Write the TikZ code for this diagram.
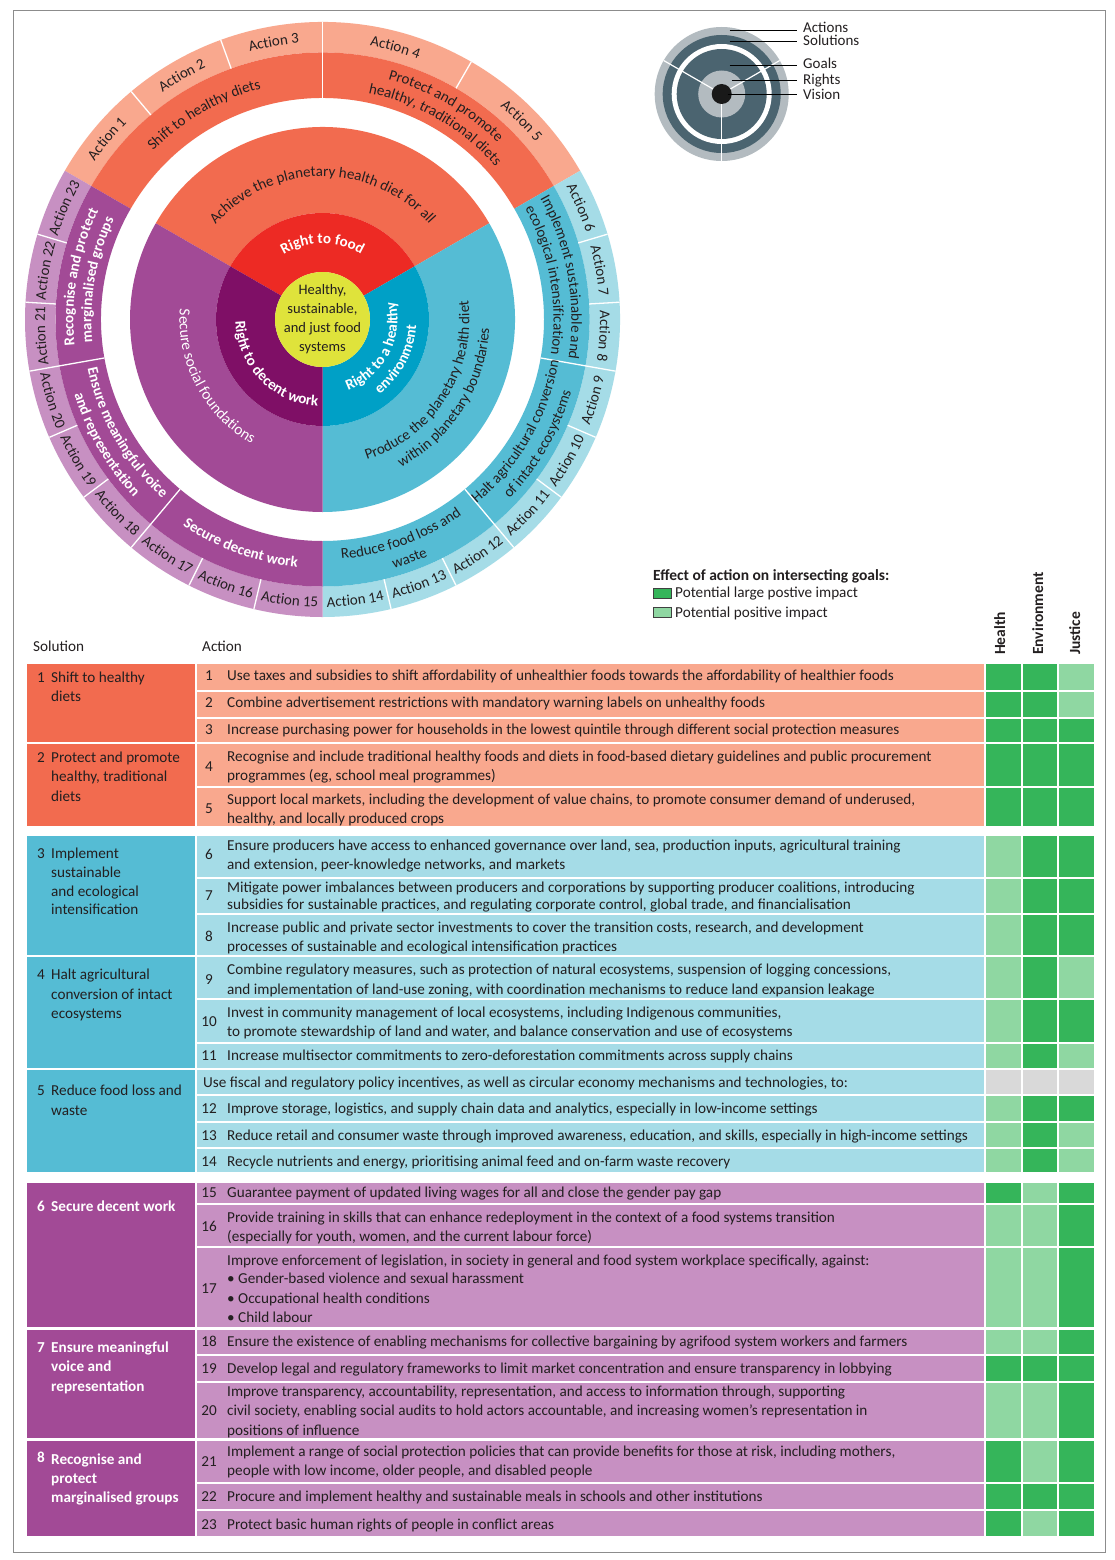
\documentclass[tikz,border=0pt]{standalone}
\usepackage{fontspec}
\setmainfont{Carlito}
\usetikzlibrary{decorations.text}
\definecolor{orS}{HTML}{F26B4F}
\definecolor{orA}{HTML}{F9A88E}
\definecolor{blS}{HTML}{55BCD4}
\definecolor{blA}{HTML}{A5DCE7}
\definecolor{puS}{HTML}{A24A96}
\definecolor{puA}{HTML}{C790C2}
\definecolor{rdR}{HTML}{ED2A24}
\definecolor{blR}{HTML}{00A0C6}
\definecolor{puR}{HTML}{7F0F66}
\definecolor{yel}{HTML}{DFE33B}
\definecolor{gL}{HTML}{35B55A}
\definecolor{gP}{HTML}{8FD7A2}
\definecolor{gG}{HTML}{D9D9D9}
\definecolor{txt}{HTML}{231F20}
\definecolor{slate}{HTML}{4B6470}
\definecolor{lgrey}{HTML}{B3BBC0}

\newcommand\fA{\fontsize{15}{18}\selectfont\color{txt}}
\newcommand\fW{\fontsize{15}{18}\selectfont\bfseries\color{white}}
\newcommand\fWr{\fontsize{15.5}{18}\selectfont\color{white}}

\newcommand\ringsec[5]{\fill[#1] (#2:#4) arc[start angle=#2,end angle=#3,radius=#4] -- (#3:#5) arc[start angle=#3,end angle=#2,radius=#5] -- cycle;}
\newcommand\cwtext[4]{\path[decorate,decoration={text along path,text align=center,text={|#3|#4}}] ({#2+85}:#1) arc[start angle={#2+85},end angle={#2-85},radius=#1];}
\newcommand\ccwtext[4]{\path[decorate,decoration={text along path,text align=center,text={|#3|#4}}] ({#2-85}:#1) arc[start angle={#2-85},end angle={#2+85},radius=#1];}

\newcounter{nd}
\newcommand\tabline[4][]{\stepcounter{nd}\node[tabtxt,#1] (t\arabic{nd}) at (#2,-#3) {#4};}
\newcommand\tabnum[2]{\stepcounter{nd}\node[tabtxt,anchor=base] (t\arabic{nd}) at (209,-#1) {#2};}
\newcommand\trow[6]{%
 \fill[#3] (197,-#1) rectangle (984,-#2);
 \fill[#4] (986,-#1) rectangle (1021,-#2);
 \fill[#5] (1023,-#1) rectangle (1057,-#2);
 \fill[#6] (1059,-#1) rectangle (1094,-#2);}

\tikzset{
 tabtxt/.style={anchor=base west,inner sep=0pt,text=txt,font=\fontsize{15.2}{17}\selectfont},
 solw/.style={text=white,font=\fontsize{15.2}{17}\selectfont\bfseries},
 hdr/.style={anchor=base west,inner sep=0pt,text=txt,font=\fontsize{15.5}{17}\selectfont\bfseries},
 sep/.style={white,line width=1.3pt},
 lbl/.style={anchor=base west,inner sep=0pt,text=txt,font=\fontsize{15}{18}\selectfont},
 leadline/.style={black,line width=0.9pt}
}

\begin{document}
\begin{tikzpicture}[x=1pt,y=1pt]
\useasboundingbox (0,0) rectangle (1114,-1560);
\fill[white] (0,0) rectangle (1114,-1560);
\draw[black!45,line width=0.8pt] (13,-10) rectangle (1105,-1552);

% ================= main circle =================
\begin{scope}[shift={(322.5,-319.5)}]
 % actions ring
 \ringsec{orA}{30}{150}{267}{297.5}
 \ringsec{blA}{-90}{30}{267}{297.5}
 \ringsec{puA}{150}{270}{267}{297.5}
 % solutions ring
 \ringsec{orS}{30}{150}{221.5}{267}
 \ringsec{blS}{-90}{30}{221.5}{267}
 \ringsec{puS}{150}{270}{221.5}{267}
 % goals
 \ringsec{orS}{30}{150}{106.5}{192.5}
 \ringsec{blS}{-90}{30}{106.5}{192.5}
 \ringsec{puS}{150}{270}{106.5}{192.5}
 % rights
 \ringsec{rdR}{30}{150}{47.5}{106.5}
 \ringsec{blR}{-90}{30}{47.5}{106.5}
 \ringsec{puR}{150}{270}{47.5}{106.5}
 % vision
 \fill[yel] (0,0) circle[radius=47.5];
 % separators
 \foreach \a in {90,-10,-50,230,190} \draw[sep] (\a:221.5) -- (\a:297.5);
 \foreach \a in {130,110,60,16.667,3.333,-23.333,-36.667,-63.333,-76.667,256.667,243.333,216.667,203.333,176.667,163.333}
   \draw[sep] (\a:267) -- (\a:297.5);
 % vision text
 \node[align=center,text=txt,font=\fontsize{14.5}{19}\selectfont,inner sep=0pt] (vision) at (0,0.5) {Healthy,\\sustainable,\\and just food\\systems};
 % rights text
 \cwtext{76}{90}{\fW}{Right to food}
 \ccwtext{87}{224}{\fW}{Right to decent work}
 \ccwtext{75}{-28}{\fW}{Right to a healthy}
 \ccwtext{94}{-28}{\fW}{environment}
 % goals text
 \cwtext{143}{90}{\fA}{Achieve the planetary health diet for all}
 \ccwtext{143}{208}{\fWr}{Secure social foundations}
 \ccwtext{147}{-32.5}{\fA}{Produce the planetary health diet}
 \ccwtext{167}{-32.5}{\fA}{within planetary boundaries}
 % solutions text
 \cwtext{239}{120}{\fA}{Shift to healthy diets}
 \cwtext{249}{60}{\fA}{Protect and promote}
 \cwtext{231}{60}{\fA}{healthy, traditional diets}
 \cwtext{249}{10}{\fA}{Implement sustainable and}
 \cwtext{231}{10}{\fA}{ecological intensification}
 \ccwtext{240}{-30}{\fA}{Halt agricultural conversion}
 \ccwtext{259}{-30}{\fA}{of intact ecosystems}
 \ccwtext{240}{-70}{\fA}{Reduce food loss and}
 \ccwtext{259}{-70}{\fA}{waste}
 \ccwtext{249}{250}{\fW}{Secure decent work}
 \ccwtext{240}{210}{\fW}{Ensure meaningful voice}
 \ccwtext{259}{210}{\fW}{and representation}
 \cwtext{249}{170}{\fW}{Recognise and protect}
 \cwtext{231}{170}{\fW}{marginalised groups}
 % actions text
 \cwtext{277.5}{140}{\fA}{Action 1}
 \cwtext{277.5}{120}{\fA}{Action 2}
 \cwtext{277.5}{100}{\fA}{Action 3}
 \cwtext{277.5}{75}{\fA}{Action 4}
 \cwtext{277.5}{45}{\fA}{Action 5}
 \cwtext{277.5}{23.333}{\fA}{Action 6}
 \cwtext{277.5}{10}{\fA}{Action 7}
 \cwtext{277.5}{-3.333}{\fA}{Action 8}
 \ccwtext{287.5}{-16.667}{\fA}{Action 9}
 \ccwtext{287.5}{-30}{\fA}{Action 10}
 \ccwtext{287.5}{-43.333}{\fA}{Action 11}
 \ccwtext{287.5}{-56.667}{\fA}{Action 12}
 \ccwtext{287.5}{-70}{\fA}{Action 13}
 \ccwtext{287.5}{-83.333}{\fA}{Action 14}
 \ccwtext{287.5}{263.333}{\fA}{Action 15}
 \ccwtext{287.5}{250}{\fA}{Action 16}
 \ccwtext{287.5}{236.667}{\fA}{Action 17}
 \ccwtext{287.5}{223.333}{\fA}{Action 18}
 \ccwtext{287.5}{210}{\fA}{Action 19}
 \ccwtext{287.5}{196.667}{\fA}{Action 20}
 \cwtext{277.5}{183.333}{\fA}{Action 21}
 \cwtext{277.5}{170}{\fA}{Action 22}
 \cwtext{277.5}{156.667}{\fA}{Action 23}
\end{scope}

% ================= small legend circle =================
\begin{scope}[shift={(721.7,-94)}]
 \fill[lgrey] (0,0) circle[radius=67];
 \fill[slate] (0,0) circle[radius=59];
 \fill[white] (0,0) circle[radius=50];
 \fill[slate] (0,0) circle[radius=45];
 \fill[lgrey] (0,0) circle[radius=23.5];
 \foreach \a in {30,150,270} \draw[white,line width=1.2pt] (0,0) -- (\a:67);
 \fill[black!90] (0,0) circle[radius=10];
 \coordinate (pA) at (8,64);
 \coordinate (pS) at (8,53);
 \coordinate (pG) at (8,29);
 \coordinate (pR) at (10,13.3);
 \coordinate (pV) at (6,0);
\end{scope}
\node[lbl] (lA) at (803,-33) {Actions};
\node[lbl] (lS) at (803,-45.5) {Solutions};
\node[lbl] (lG) at (803,-68.5) {Goals};
\node[lbl] (lR) at (803,-84.5) {Rights};
\node[lbl] (lV) at (803,-100) {Vision};
\draw[leadline] (pA) -- (797,-30);
\draw[leadline] (pS) -- (797,-41);
\draw[leadline] (pG) -- (797,-65);
\draw[leadline] (pR) -- (797,-80.7);
\draw[leadline] (pV) -- (797,-94);

% ================= legend for table =================
\node[hdr] (effect) at (653,-580.5) {Effect of action on intersecting goals:};
\fill[gL,draw=black!75,line width=0.8pt] (653.5,-588.5) rectangle (671,-598.5);
\fill[gP,draw=black!75,line width=0.8pt] (653.5,-607.5) rectangle (671,-617.5);
\node[tabtxt] (leg1) at (675,-597.5) {Potential large postive impact};
\node[tabtxt] (leg2) at (675,-617) {Potential positive impact};
\node[hdr,rotate=90] (hHealth) at (1005,-655) {Health};
\node[hdr,rotate=90] (hEnv) at (1043,-655) {Environment};
\node[hdr,rotate=90] (hJust) at (1080,-655) {Justice};
\node[tabtxt] (hSol) at (33,-651.5) {Solution};
\node[tabtxt] (hAct) at (202,-651.5) {Action};

% ================= table rows =================
\trow{664}{690}{orA}{gL}{gL}{gP}
\trow{692}{717}{orA}{gL}{gL}{gP}
\trow{719}{742}{orA}{gL}{gL}{gL}
\trow{744}{786}{orA}{gL}{gL}{gL}
\trow{788}{826}{orA}{gL}{gL}{gL}
\trow{836}{877}{blA}{gP}{gL}{gL}
\trow{879}{913}{blA}{gP}{gL}{gL}
\trow{915}{955}{blA}{gP}{gL}{gL}
\trow{957}{998}{blA}{gP}{gL}{gP}
\trow{1000}{1042}{blA}{gP}{gL}{gL}
\trow{1044}{1068}{blA}{gP}{gL}{gP}
\trow{1070}{1094}{blA}{gG}{gG}{gG}
\trow{1096}{1121}{blA}{gP}{gL}{gL}
\trow{1123}{1147}{blA}{gP}{gL}{gP}
\trow{1149}{1172}{blA}{gP}{gL}{gP}
\trow{1183}{1203}{puA}{gL}{gP}{gL}
\trow{1205}{1246}{puA}{gP}{gP}{gL}
\trow{1248}{1327}{puA}{gP}{gP}{gL}
\trow{1330}{1354}{puA}{gP}{gP}{gL}
\trow{1356}{1381}{puA}{gL}{gL}{gL}
\trow{1383}{1438}{puA}{gP}{gP}{gL}
\trow{1441}{1482}{puA}{gL}{gP}{gL}
\trow{1484}{1509}{puA}{gL}{gL}{gL}
\trow{1511}{1536}{puA}{gL}{gP}{gL}
% solution boxes
\fill[orS] (27,-664) rectangle (195,-742);
\fill[orS] (27,-744) rectangle (195,-826);
\fill[blS] (27,-836) rectangle (195,-955);
\fill[blS] (27,-957) rectangle (195,-1068);
\fill[blS] (27,-1070) rectangle (195,-1172);
\fill[puS] (27,-1183) rectangle (195,-1327);
\fill[puS] (27,-1330) rectangle (195,-1438);
\fill[puS] (27,-1441) rectangle (195,-1536);

% solution labels
\tabline{37}{682}{1}\tabline{51}{682}{Shift to healthy}\tabline{51}{701}{diets}
\tabline{37}{762}{2}\tabline{51}{762}{Protect and promote}\tabline{51}{781}{healthy, traditional}\tabline{51}{801}{diets}
\tabline{37}{858}{3}\tabline{51}{858}{Implement}\tabline{51}{877}{sustainable}\tabline{51}{896}{and ecological}\tabline{51}{914}{intensification}
\tabline{37}{979}{4}\tabline{51}{979}{Halt agricultural}\tabline{51}{999}{conversion of intact}\tabline{51}{1018}{ecosystems}
\tabline{37}{1095}{5}\tabline{51}{1095}{Reduce food loss and}\tabline{51}{1115}{waste}
\tabline[solw]{37}{1211}{6}\tabline[solw]{51}{1211}{Secure decent work}
\tabline[solw]{37}{1352}{7}\tabline[solw]{51}{1352}{Ensure meaningful}\tabline[solw]{51}{1371}{voice and}\tabline[solw]{51}{1391}{representation}
\tabline[solw]{37}{1462}{8}\tabline[solw]{51}{1464}{Recognise and}\tabline[solw]{51}{1483}{protect}\tabline[solw]{51}{1502}{marginalised groups}

% action texts
\tabnum{680}{1}\tabline{227}{680}{Use taxes and subsidies to shift affordability of unhealthier foods towards the affordability of healthier foods}
\tabnum{707}{2}\tabline{227}{707}{Combine advertisement restrictions with mandatory warning labels on unhealthy foods}
\tabnum{734}{3}\tabline{227}{734}{Increase purchasing power for households in the lowest quintile through different social protection measures}
\tabnum{771}{4}\tabline{227}{761}{Recognise and include traditional healthy foods and diets in food-based dietary guidelines and public procurement}\tabline{227}{780}{programmes (eg, school meal programmes)}
\tabnum{813}{5}\tabline{227}{804}{Support local markets, including the development of value chains, to promote consumer demand of underused,}\tabline{227}{823}{healthy, and locally produced crops}
\tabnum{859}{6}\tabline{227}{850}{Ensure producers have access to enhanced governance over land, sea, production inputs, agricultural training}\tabline{227}{869}{and extension, peer-knowledge networks, and markets}
\tabnum{900}{7}\tabline{227}{892}{Mitigate power imbalances between producers and corporations by supporting producer coalitions, introducing}\tabline{227}{909}{subsidies for sustainable practices, and regulating corporate control, global trade, and financialisation}
\tabnum{941}{8}\tabline{227}{932}{Increase public and private sector investments to cover the transition costs, research, and development}\tabline{227}{951}{processes of sustainable and ecological intensification practices}
\tabnum{984}{9}\tabline{227}{974}{Combine regulatory measures, such as protection of natural ecosystems, suspension of logging concessions,}\tabline{227}{994}{and implementation of land-use zoning, with coordination mechanisms to reduce land expansion leakage}
\tabnum{1026}{10}\tabline{227}{1017}{Invest in community management of local ecosystems, including Indigenous communities,}\tabline{227}{1036}{to promote stewardship of land and water, and balance conservation and use of ecosystems}
\tabnum{1060}{11}\tabline{227}{1060}{Increase multisector commitments to zero-deforestation commitments across supply chains}
\tabline{203}{1087}{Use fiscal and regulatory policy incentives, as well as circular economy mechanisms and technologies, to:}
\tabnum{1113}{12}\tabline{227}{1113}{Improve storage, logistics, and supply chain data and analytics, especially in low-income settings}
\tabnum{1140}{13}\tabline{227}{1140}{Reduce retail and consumer waste through improved awareness, education, and skills, especially in high-income settings}
\tabnum{1166}{14}\tabline{227}{1166}{Recycle nutrients and energy, prioritising animal feed and on-farm waste recovery}
\tabnum{1197}{15}\tabline{227}{1197}{Guarantee payment of updated living wages for all and close the gender pay gap}
\tabnum{1231}{16}\tabline{227}{1222}{Provide training in skills that can enhance redeployment in the context of a food systems transition}\tabline{227}{1241}{(especially for youth, women, and the current labour force)}
\tabnum{1293}{17}\tabline{227}{1265}{Improve enforcement of legislation, in society in general and food system workplace specifically, against:}\tabline{227}{1283}{• Gender-based violence and sexual harassment}\tabline{227}{1303}{• Occupational health conditions}\tabline{227}{1322}{• Child labour}
\tabnum{1346}{18}\tabline{227}{1346}{Ensure the existence of enabling mechanisms for collective bargaining by agrifood system workers and farmers}
\tabnum{1373}{19}\tabline{227}{1373}{Develop legal and regulatory frameworks to limit market concentration and ensure transparency in lobbying}
\tabnum{1415}{20}\tabline{227}{1396}{Improve transparency, accountability, representation, and access to information through, supporting}\tabline{227}{1415}{civil society, enabling social audits to hold actors accountable, and increasing women’s representation in}\tabline{227}{1435}{positions of influence}
\tabnum{1466}{21}\tabline{227}{1456}{Implement a range of social protection policies that can provide benefits for those at risk, including mothers,}\tabline{227}{1475}{people with low income, older people, and disabled people}
\tabnum{1501}{22}\tabline{227}{1501}{Procure and implement healthy and sustainable meals in schools and other institutions}
\tabnum{1529}{23}\tabline{227}{1529}{Protect basic human rights of people in conflict areas}
\end{tikzpicture}
\end{document}
